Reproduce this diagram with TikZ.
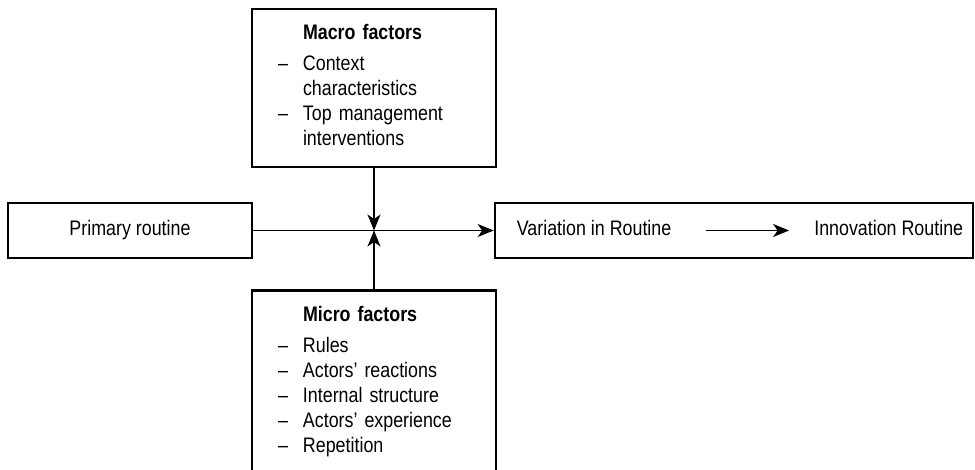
\documentclass[tikz,border=0pt]{standalone}
\usepackage{fontspec}
\setmainfont{Liberation Sans}[FakeStretch=0.85]
\usetikzlibrary{arrows.meta, positioning}

\begin{document}
\begin{tikzpicture}[x=1pt, y=1pt,
    font=\fontsize{21pt}{25pt}\selectfont,
    box/.style={draw, line width=2.7pt, minimum width=244pt,
                minimum height=55pt, inner sep=0pt},
    factorbox/.style={box, inner xsep=26pt, text width=192pt, align=left},
    txt/.style={inner sep=0pt, text height=15pt, text depth=4.5pt},
    link/.style={-{Stealth[length=16pt, width=13pt, inset=4.5pt]},
                 line width=1.3pt}]
  \useasboundingbox (0,0) rectangle (975,469);
  \clip (0,0) rectangle (975,469);

  % routines
  \node[box] (prim) at (130,238.5) {Primary routine};
  \node[box, minimum width=478pt] (varbox) at (734,238.5) {};
  \node[txt, anchor=west] (varin) at ([xshift=23pt]varbox.west)
    {Variation in Routine};
  \node[txt, anchor=east] (innov) at ([xshift=-11pt]varbox.east)
    {Innovation Routine};

  % factors
  \node[factorbox, minimum height=158pt] (macro) at (374,381)
    {\begin{tabular}{@{}p{25pt}@{}l@{}}
       & \textbf{Macro factors}\\[6pt]
     – & Context\\
       & characteristics\\
     – & Top management\\
       & interventions
     \end{tabular}};
  \node[factorbox, minimum height=183pt, anchor=north] (micro) at (374,180)
    {\begin{tabular}{@{}p{25pt}@{}l@{}}
       & \textbf{Micro factors}\\[6pt]
     – & Rules\\
     – & Actors’ reactions\\
     – & Internal structure\\
     – & Actors’ experience\\
     – & Repetition
     \end{tabular}};

  \coordinate (meet) at (prim.east -| macro.south);

  \draw[link] (prim) -- (varbox);
  \draw[link] (macro) -- (meet);
  \draw[link] (micro) -- (meet);
  \draw[link, shorten <=34pt, shorten >=25pt] (varin) -- (innov);
\end{tikzpicture}
\end{document}
